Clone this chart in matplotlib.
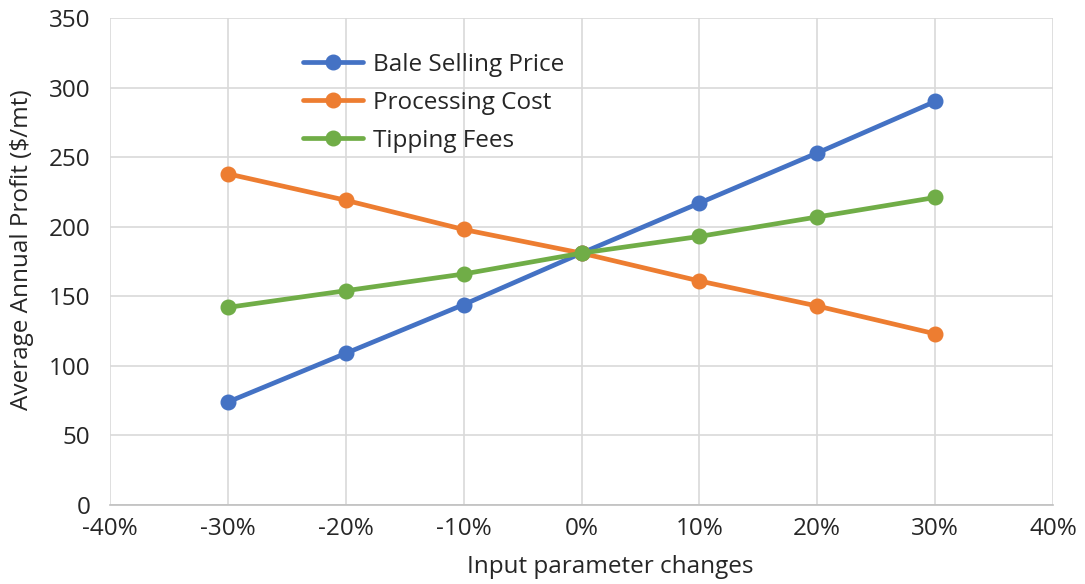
import matplotlib
matplotlib.use("Agg")
import matplotlib.pyplot as plt
from matplotlib.ticker import FuncFormatter

plt.rcParams['font.family'] = ['Open Sans', 'DejaVu Sans']

changes = [-30, -20, -10, 0, 10, 20, 30]
bale_price = [74, 109, 144, 181, 217, 253, 290]
processing_cost = [238, 219, 198, 181, 161, 143, 123]
tipping_fees = [142, 154, 166, 181, 193, 207, 221]

series = [
    ("Bale Selling Price", bale_price, "#4472C4"),
    ("Processing Cost", processing_cost, "#ED7D31"),
    ("Tipping Fees", tipping_fees, "#70AD47"),
]

fig = plt.figure(figsize=(10.85, 5.84), dpi=100)
ax = fig.add_axes([0.1014, 0.1353, 0.8691, 0.8339])

for label, vals, color in series:
    ax.plot(changes, vals, color=color, lw=3.4, marker='o', markersize=10.5,
            label=label, zorder=3, solid_capstyle='round')

ax.set_xlim(-40, 40)
ax.set_ylim(0, 350)
ax.set_xticks(range(-40, 41, 10))
ax.set_yticks(range(0, 351, 50))
ax.xaxis.set_major_formatter(FuncFormatter(lambda v, p: f"{int(v)}%"))
ax.grid(True, color="#d9d9d9", lw=1.2, zorder=0)
for s in ['top', 'right', 'left']:
    ax.spines[s].set_visible(False)
ax.spines['bottom'].set_color("#bfbfbf")
ax.spines['bottom'].set_linewidth(1.2)
ax.tick_params(length=0, labelsize=17.5, colors="#262626")
ax.tick_params(axis='y', pad=14)
ax.tick_params(axis='x', pad=9)

ax.set_xlabel("Input parameter changes", fontsize=17.5, color="#262626")
ax.xaxis.set_label_coords(0.530, -0.127, transform=ax.transAxes)
ax.xaxis.label.set_verticalalignment('center')
ax.set_ylabel("Average Annual Profit ($/mt)", fontsize=17.5, color="#262626")
ax.yaxis.set_label_coords(-0.093, 0.524, transform=ax.transAxes)
ax.yaxis.label.set_verticalalignment('center')

ax.legend(loc='upper left', bbox_to_anchor=(0.181, 0.974), frameon=False,
          fontsize=17.5, handlelength=2.5, handletextpad=0.4, labelspacing=0.58,
          labelcolor="#262626")

fig.savefig("out.png", dpi=100)
